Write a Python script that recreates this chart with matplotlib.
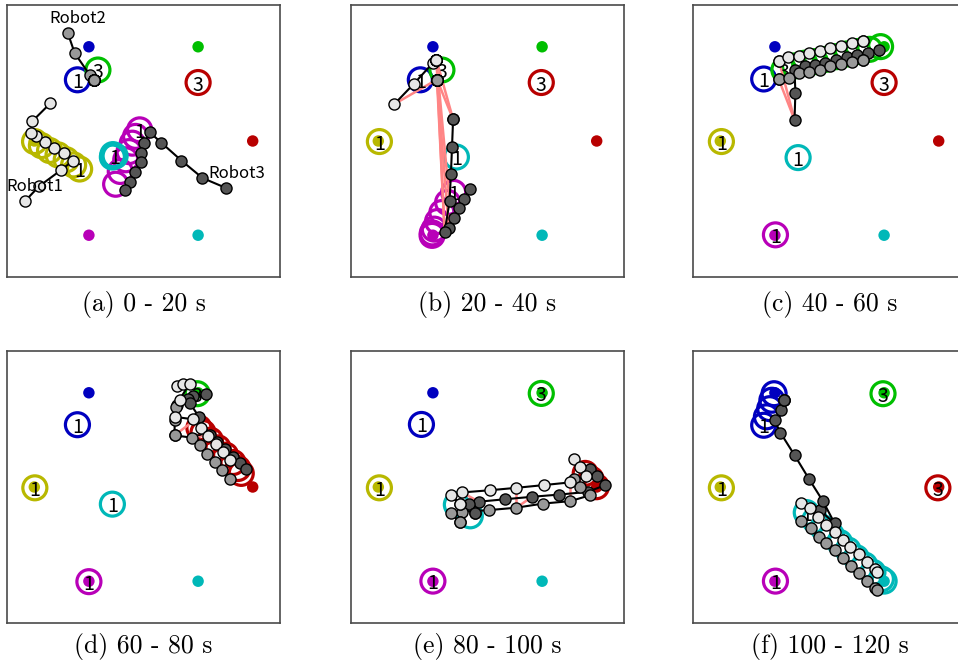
import matplotlib
matplotlib.use("Agg")
import matplotlib.pyplot as plt
from matplotlib.patches import Circle

W, H, DPI = 958, 666, 100

plt.rcParams["font.family"] = ["Noto Sans CJK JP", "DejaVu Sans"]

# ---------------------------------------------------------------- goals
GOAL_NAMES = ["blue", "green", "red", "cyan", "magenta", "yellow"]
GOAL_X = [3.0, 7.0, 9.0, 7.0, 3.0, 1.0]
GOAL_Y = [8.464, 8.464, 5.0, 1.536, 1.536, 5.0]
COLORS = {
    "blue": (0.0, 0.0, 0.75),
    "green": (0.0, 0.75, 0.0),
    "red": (0.72, 0.0, 0.0),
    "cyan": (0.0, 0.72, 0.72),
    "magenta": (0.72, 0.0, 0.72),
    "yellow": (0.72, 0.72, 0.0),
}
# number of robots each object needs
TASK_SIZE = {"blue": 1, "green": 3, "red": 3, "cyan": 1, "magenta": 1, "yellow": 1}

ROBOT_FACE = ["#e6e6e6", "#999999", "#555555"]
ROBOT_NAMES = ["Robot1", "Robot2", "Robot3"]
ROBOT_LABEL_XY = [(1.01, 3.31), (2.60, 9.49), (8.42, 3.82)]

CAPTIONS = ["(a) 0 - 20 s", "(b) 20 - 40 s", "(c) 40 - 60 s",
            "(d) 60 - 80 s", "(e) 80 - 100 s", "(f) 100 - 120 s"]

# ---------------------------------------------------------------- 0-20 s
a_robot1 = [(0.65, 2.78), (1.17, 3.33), (1.99, 3.94), (2.42, 4.28), (2.08, 4.55),
            (1.71, 4.76), (1.38, 4.98), (1.07, 5.17), (0.89, 5.29), (0.92, 5.72),
            (1.59, 6.39)]
a_robot2 = [(2.23, 8.96), (2.48, 8.23), (3.03, 7.43), (3.17, 7.25), (3.17, 7.25),
            (3.17, 7.25), (3.17, 7.25), (3.17, 7.25), (3.17, 7.25), (3.17, 7.25),
            (3.17, 7.25)]
a_robot3 = [(8.03, 3.27), (7.16, 3.64), (6.39, 4.28), (5.65, 4.94), (5.23, 5.32),
            (5.01, 4.92), (4.92, 4.55), (4.92, 4.22), (4.68, 3.87), (4.49, 3.51),
            (4.31, 3.21)]
a_tasks = {
    "blue": [(2.58, 7.25)],
    "green": [(3.33, 7.61)],
    "red": [(7.00, 7.15)],
    "yellow": [(2.66, 3.97), (2.44, 4.12), (2.17, 4.31), (1.87, 4.49), (1.56, 4.65),
               (1.26, 4.83), (1.01, 4.98)],
    "magenta": [(4.86, 5.41), (4.71, 5.17), (4.59, 4.92), (4.47, 4.61), (4.35, 4.31),
                (4.15, 3.88), (3.98, 3.41)],
    "cyan": [(3.96, 4.45), (3.88, 4.50), (3.86, 4.41)],
}
a_links = []

# ---------------------------------------------------------------- 20-40 s
b_robot1 = [(1.59, 6.36), (2.30, 7.10), (2.99, 7.86), (3.13, 7.98), (3.13, 7.98),
            (3.13, 7.98), (3.13, 7.98), (3.13, 7.98), (3.13, 7.98), (3.13, 7.98),
            (3.13, 7.98)]
b_robot2 = [(3.15, 7.26), (3.15, 7.26), (3.15, 7.26), (3.15, 7.26), (3.15, 7.26),
            (3.15, 7.26), (3.15, 7.26), (3.15, 7.26), (3.15, 7.26), (3.15, 7.26),
            (3.15, 7.26)]
b_robot3 = [(4.35, 3.23), (4.13, 2.86), (3.94, 2.53), (3.76, 2.17), (3.58, 1.80),
            (3.43, 1.64), (3.61, 2.78), (3.66, 3.79), (3.70, 4.77), (3.74, 5.80),
            (3.74, 5.80)]
b_tasks = {
    "blue": [(2.54, 7.25)],
    "green": [(3.33, 7.61)],
    "red": [(6.97, 7.15)],
    "yellow": [(1.04, 4.98)],
    "magenta": [(3.76, 3.11), (3.54, 2.74), (3.33, 2.37), (3.17, 2.04), (3.05, 1.76),
                (2.98, 1.62), (2.97, 1.53)],
    "cyan": [(3.86, 4.41)],
}
b_links = [(0, 0, 1), (4, 1, 2), (5, 0, 2), (5, 1, 2), (6, 0, 2), (9, 0, 2), (9, 1, 2)]

# ---------------------------------------------------------------- 40-60 s
c_robot1 = [(3.15, 7.94), (3.15, 7.94), (3.48, 8.08), (3.87, 8.13), (4.25, 8.25),
            (4.64, 8.32), (5.03, 8.41), (5.42, 8.51), (5.81, 8.59), (6.23, 8.68),
            (6.23, 8.68)]
c_robot2 = [(3.14, 7.27), (3.14, 7.27), (3.50, 7.31), (3.87, 7.49), (4.24, 7.55),
            (4.64, 7.61), (5.03, 7.74), (5.43, 7.82), (5.82, 7.92), (6.23, 7.98),
            (6.23, 7.98)]
c_robot3 = [(3.72, 5.78), (3.75, 6.78), (3.72, 7.61), (4.09, 7.76), (4.46, 7.80),
            (4.82, 7.88), (5.25, 7.98), (5.64, 8.08), (6.02, 8.16), (6.41, 8.25),
            (6.81, 8.35)]
c_tasks = {
    "blue": [(2.59, 7.28)],
    "green": [(3.33, 7.61), (3.72, 7.76), (4.09, 7.86), (4.48, 7.92), (4.85, 8.00),
              (5.25, 8.10), (5.64, 8.20), (6.04, 8.29), (6.47, 8.37), (6.87, 8.47)],
    "red": [(7.00, 7.15)],
    "yellow": [(1.04, 4.98)],
    "magenta": [(3.02, 1.55)],
    "cyan": [(3.85, 4.39)],
}
c_links = [(0, 0, 2), (0, 1, 2)]

# ---------------------------------------------------------------- 60-80 s
d_robot1 = [(6.23, 8.70), (6.45, 8.80), (6.69, 8.80), (6.32, 8.21), (6.14, 7.58),
            (6.81, 7.49), (7.09, 7.17), (7.36, 6.88), (7.64, 6.57), (7.91, 6.29),
            (8.18, 6.01)]
d_robot2 = [(6.23, 8.00), (6.18, 7.94), (6.14, 7.45), (6.14, 6.90), (6.14, 6.90),
            (6.79, 6.81), (7.06, 6.54), (7.33, 6.23), (7.61, 5.92), (7.89, 5.64),
            (8.16, 5.31)]
d_robot3 = [(6.81, 8.35), (7.30, 8.43), (6.63, 8.25), (6.69, 8.10), (7.03, 7.58),
            (7.42, 6.93), (7.69, 6.66), (7.99, 6.39), (8.28, 6.11), (8.52, 5.90),
            (8.77, 5.65)]
d_tasks = {
    "blue": [(2.58, 7.29)],
    "green": [(6.97, 8.43)],
    "red": [(7.03, 7.17), (7.18, 7.00), (7.45, 6.72), (7.73, 6.44), (8.01, 6.17),
            (8.28, 5.90), (8.46, 5.68), (8.58, 5.50)],
    "yellow": [(1.02, 4.97)],
    "magenta": [(3.00, 1.52)],
    "cyan": [(3.86, 4.37)],
}
d_links = [(4, 1, 2), (5, 1, 2)]

# ---------------------------------------------------------------- 80-100 s
e_robot1 = [(8.18, 6.02), (8.40, 5.74), (8.61, 5.41), (8.03, 5.17), (7.06, 5.07),
            (6.06, 4.97), (5.08, 4.88), (4.07, 4.80), (3.66, 4.72), (3.98, 4.39),
            (3.98, 4.39)]
e_robot2 = [(8.16, 5.31), (8.40, 5.01), (8.77, 4.70), (8.03, 4.48), (7.03, 4.39),
            (6.06, 4.24), (5.05, 4.15), (4.07, 4.09), (3.66, 4.06), (3.98, 3.70),
            (3.98, 3.70)]
e_robot3 = [(8.77, 5.65), (9.01, 5.41), (9.32, 5.07), (8.67, 4.82), (7.61, 4.72),
            (6.63, 4.64), (5.65, 4.55), (4.68, 4.46), (4.31, 4.39), (4.55, 4.06),
            (4.55, 4.06)]
e_tasks = {
    "blue": [(2.58, 7.30)],
    "green": [(6.97, 8.44)],
    "red": [(8.58, 5.50), (8.79, 5.29), (8.99, 5.01)],
    "yellow": [(1.04, 4.97)],
    "magenta": [(3.00, 1.54)],
    "cyan": [(3.86, 4.35), (4.37, 3.94)],
}
e_links = [(3, 0, 1), (5, 0, 1), (5, 1, 2), (7, 0, 2)]

# ---------------------------------------------------------------- 100-120 s
f_robot1 = [(3.97, 4.43), (4.27, 4.21), (4.58, 3.88), (4.88, 3.60), (5.19, 3.33),
            (5.49, 3.05), (5.76, 2.80), (6.07, 2.52), (6.37, 2.25), (6.68, 1.98),
            (6.75, 1.88)]
f_robot2 = [(3.97, 3.74), (4.31, 3.48), (4.60, 3.17), (4.88, 2.93), (5.19, 2.68),
            (5.49, 2.40), (5.78, 2.11), (6.07, 1.82), (6.37, 1.54), (6.65, 1.30),
            (6.75, 1.21)]
f_robot3 = [(4.64, 4.15), (5.19, 3.66), (4.76, 4.48), (4.24, 5.31), (3.72, 6.17),
            (3.20, 7.00), (2.99, 7.45), (3.21, 7.82), (3.32, 8.19), (3.32, 8.19),
            (3.32, 8.19)]
f_tasks = {
    "blue": [(2.59, 7.27), (2.69, 7.58), (2.81, 7.88), (2.89, 8.19), (2.97, 8.43)],
    "green": [(6.96, 8.43)],
    "red": [(8.97, 4.97)],
    "yellow": [(1.04, 4.97)],
    "magenta": [(3.02, 1.54)],
    "cyan": [(4.15, 4.06), (4.46, 3.78), (4.76, 3.50), (5.07, 3.23), (5.37, 2.96),
             (5.68, 2.68), (5.98, 2.40), (6.29, 2.13), (6.59, 1.86), (6.90, 1.62),
             (7.00, 1.54)],
}
f_links = []

PANELS = [
    ((a_robot1, a_robot2, a_robot3), a_tasks, a_links),
    ((b_robot1, b_robot2, b_robot3), b_tasks, b_links),
    ((c_robot1, c_robot2, c_robot3), c_tasks, c_links),
    ((d_robot1, d_robot2, d_robot3), d_tasks, d_links),
    ((e_robot1, e_robot2, e_robot3), e_tasks, e_links),
    ((f_robot1, f_robot2, f_robot3), f_tasks, f_links),
]

# ---------------------------------------------------------------- layout (pixels)
PANEL_W, PANEL_H = 273, 272
COL_LEFT = [7, 351, 693]
ROW_TOP = [5, 351]
CAPTION_BASE = [311, 653]

fig = plt.figure(figsize=(W / DPI, H / DPI), dpi=DPI)

for k, (robots, tasks, links) in enumerate(PANELS):
    r, c = divmod(k, 3)
    ax = fig.add_axes([COL_LEFT[c] / W, 1 - (ROW_TOP[r] + PANEL_H) / H,
                       PANEL_W / W, PANEL_H / H])
    ax.set_xlim(0, 10)
    ax.set_ylim(0, 10)
    ax.set_xticks([])
    ax.set_yticks([])
    for sp in ax.spines.values():
        sp.set_color("#4a4a4a")
        sp.set_linewidth(1.2)

    # objects being transported (ring per time step, size label at the first one)
    for name, pts in tasks.items():
        for (x, y) in pts:
            ax.add_patch(Circle((x, y), 0.44, fill=False, ec=COLORS[name],
                                lw=2.3, zorder=1))
        x0, y0 = pts[0]
        ax.text(x0, y0, str(TASK_SIZE[name]), ha="center", va="center_baseline",
                fontsize=14, color="black", zorder=3.5)

    # goal positions
    ax.scatter(GOAL_X, GOAL_Y, s=68, c=[COLORS[n] for n in GOAL_NAMES],
               linewidths=0, zorder=2)

    # links between robots at the same time step
    for (t, i, j) in links:
        xi, yi = robots[i][t]
        xj, yj = robots[j][t]
        ax.plot([xi, xj], [yi, yj], color="#ff8585", lw=1.8, zorder=3,
                solid_capstyle="round")

    # robot trajectories
    for idx in (2, 1, 0):
        xs = [p[0] for p in robots[idx]]
        ys = [p[1] for p in robots[idx]]
        ax.plot(xs, ys, color="black", lw=1.5, zorder=4)
        ax.plot(xs, ys, ls="none", marker="o", ms=8.0, mfc=ROBOT_FACE[idx],
                mec="black", mew=1.0, zorder=5)

    if k == 0:
        for name, (lx, ly) in zip(ROBOT_NAMES, ROBOT_LABEL_XY):
            ax.text(lx, ly, name, ha="center", va="center", fontsize=12,
                    color="black", zorder=6)

    fig.text((COL_LEFT[c] + PANEL_W / 2) / W, 1 - CAPTION_BASE[r] / H,
             CAPTIONS[k], ha="center", va="baseline", fontsize=18.5,
             family="cmr10", color="black")

fig.savefig("out.png", dpi=DPI)
